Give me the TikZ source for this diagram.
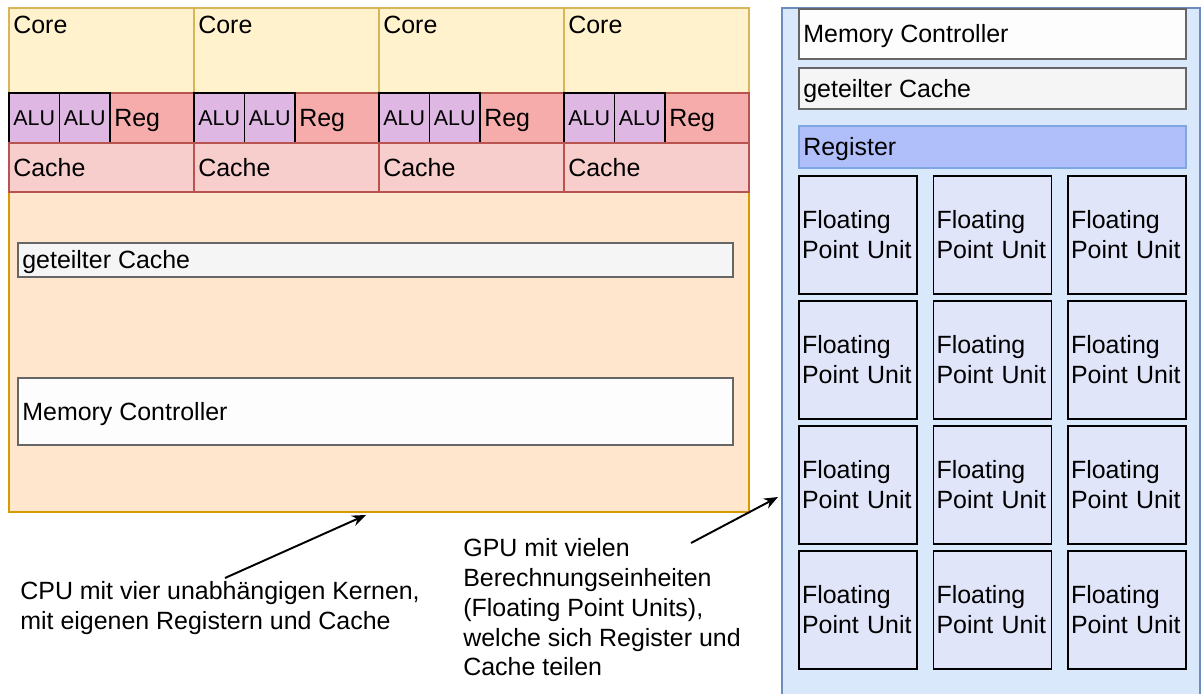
\documentclass[tikz,border=0pt]{standalone}
\usepackage{fontspec}
\setmainfont{Liberation Sans}
\usepackage{tikz}
\usetikzlibrary{arrows.meta, positioning}
\definecolor{cpuback}{HTML}{FFE6CC}
\definecolor{cpurand}{HTML}{D79B00}
\definecolor{kernback}{HTML}{FFF2CC}
\definecolor{kernrand}{HTML}{D6B656}
\definecolor{regback}{HTML}{F7ACAC}
\definecolor{cacheback}{HTML}{F8CECC}
\definecolor{rotrand}{HTML}{B85450}
\definecolor{aluback}{HTML}{DFB7E3}
\definecolor{grauback}{HTML}{F5F5F5}
\definecolor{weissback}{HTML}{FDFDFD}
\definecolor{graurand}{HTML}{666666}
\definecolor{gpuback}{HTML}{DAE8FC}
\definecolor{gpurand}{HTML}{6C8EBF}
\definecolor{regblau}{HTML}{B0BFFA}
\definecolor{regblaurand}{HTML}{7EA6E0}
\definecolor{fpuback}{HTML}{E1E5F9}
\tikzset{
  every picture/.style={font=\fontsize{14.2}{17}\selectfont},
  block/.style={draw, anchor=north west, inner sep=0pt, outer sep=0pt, line width=0.8pt},
  lbl/.style={anchor=base west, inner sep=0pt, xshift=0.08cm, yshift=-5.1pt},
  % kleinere Schrift, Grundlinie etwas hoeher
  klein/.style={lbl, font=\fontsize{12.2}{14}\selectfont, yshift=0.8pt},
  kopf/.style={anchor=north west, inner sep=0pt, xshift=0.08cm, yshift=-0.16cm},
  cpu/.style={block, fill=cpuback, draw=cpurand},
  kern/.style={block, fill=kernback, draw=kernrand, minimum width=3.7cm, minimum height=1.7cm},
  alu/.style={block, fill=aluback, draw=black, line width=1.1pt, minimum width=1.01cm, minimum height=1cm},
  reg/.style={block, fill=regback, draw=rotrand, minimum width=1.68cm, minimum height=1cm},
  cache/.style={block, fill=cacheback, draw=rotrand, minimum width=3.7cm, minimum height=0.98cm},
  grau/.style={block, fill=grauback, draw=graurand},
  weiss/.style={block, fill=weissback, draw=graurand},
  gpu/.style={block, fill=gpuback, draw=gpurand},
  regb/.style={block, fill=regblau, draw=regblaurand},
  fpu/.style={block, fill=fpuback, draw=black, line width=1.1pt, minimum width=2.36cm,
              minimum height=2.36cm, text width=2.24cm, inner xsep=0.06cm, align=left},
  notiz/.style={anchor=north west, inner sep=0pt, align=left},
  pfeil/.style={-{Stealth[length=0.28cm, width=0.22cm]}, line width=1.1pt},
}

\begin{document}
\begin{tikzpicture}[x=0.02cm, y=-0.02cm]
  \clip (0,0) rectangle (1203,693);
  % CPU mit vier Kernen
  \node[cpu, minimum width=14.8cm, minimum height=10.08cm] (cpu) at (9,8) {};
  \foreach \i/\x in {1/9, 2/194, 3/379, 4/564} {
    \node[kern, label={[kopf]north west:Core}] (kern\i) at (\x,8) {};
    \node[reg, label={[lbl]west:Reg}] (reg\i) at (\x+101,93) {};
    \node[alu, label={[klein]west:ALU}] (alua\i) at (\x,93) {};
    \node[alu, label={[klein]west:ALU}] (alub\i) at (\x+50.5,93) {};
    \node[cache, label={[lbl]west:Cache}] (cache\i) at (\x,143) {};
  }
  \node[grau, minimum width=14.3cm, minimum height=0.68cm, label={[lbl]west:geteilter Cache}] (cpucache) at (18,243) {};
  \node[weiss, minimum width=14.3cm, minimum height=1.34cm, label={[lbl]west:Memory Controller}] (cpumc) at (18,378) {};

  % GPU
  \node[gpu, minimum width=8.36cm, minimum height=14.1cm] (gpu) at (782,8) {};
  \node[weiss, minimum width=7.74cm, minimum height=1.0cm, label={[lbl]west:Memory Controller}] (gpumc) at (799,9) {};
  \node[grau, minimum width=7.74cm, minimum height=0.82cm, label={[lbl]west:geteilter Cache}] (gpucache) at (799,68) {};
  \node[regb, minimum width=7.74cm, minimum height=0.84cm, label={[lbl]west:Register}] (gpureg) at (799,126) {};
  \foreach \r/\y in {1/176, 2/301, 3/426, 4/551}
    \foreach \s/\x in {1/799, 2/933.5, 3/1068}
      \node[fpu] (fpu\r\s) at (\x,\y) {Floating\\Point Unit};

  % Erklaerungen
  \node[notiz] (cpunotiz) at (20,581) {CPU mit vier unabhängigen Kernen,\\mit eigenen Registern und Cache};
  \node[notiz] (gpunotiz) at (463,538) {GPU mit vielen\\Berechnungseinheiten\\(Floating Point Units),\\welche sich Register und\\Cache teilen};
  \coordinate (cpuzeiger) at (225,578);
  \coordinate (cpuziel) at (366,515);
  \coordinate (gpuzeiger) at (691,543);
  \coordinate (gpuziel) at (778,497);
  \draw[pfeil] (cpuzeiger) -- (cpuziel);
  \draw[pfeil] (gpuzeiger) -- (gpuziel);
\end{tikzpicture}
\end{document}
